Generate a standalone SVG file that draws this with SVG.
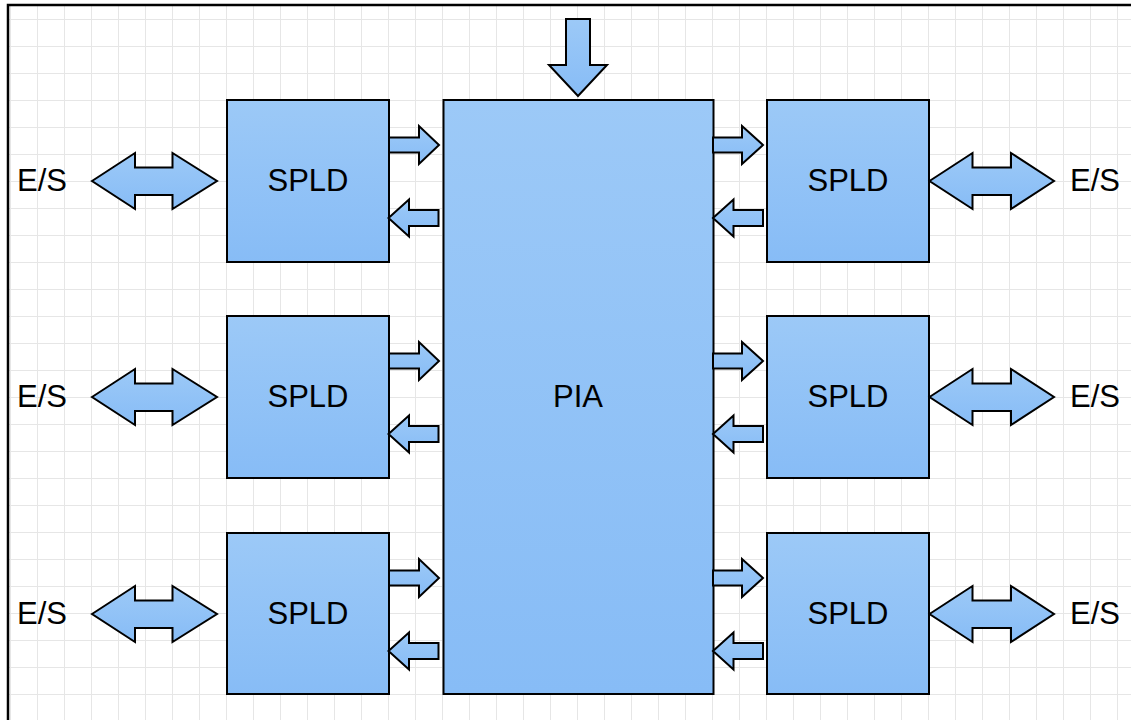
<svg xmlns="http://www.w3.org/2000/svg" width="1131" height="720" viewBox="0 0 1131 720">
  <defs>
    <linearGradient id="blueFill" x1="0" y1="0" x2="0" y2="1">
      <stop offset="0" stop-color="#9cc9f7"/>
      <stop offset="1" stop-color="#87bcf6"/>
    </linearGradient>
    <pattern id="grid" x="10" y="19" width="27" height="27" patternUnits="userSpaceOnUse">
      <path d="M0.5,0 V27 M0,0.5 H27" fill="none" stroke="#e6e6e6" stroke-width="1"/>
    </pattern>
    <style>
      .box { fill: url(#blueFill); stroke: #000; stroke-width: 2; }
      .arrow { fill: url(#blueFill); stroke: #000; stroke-width: 2; stroke-linejoin: miter; }
      .label { font-family: "Liberation Sans", Arial, sans-serif; font-size: 31px; fill: #000; text-anchor: middle; }
    </style>
  </defs>

  <!-- background and grid -->
  <rect x="0" y="0" width="1131" height="720" fill="#fff"/>
  <rect x="9" y="6" width="1122" height="714" fill="url(#grid)"/>
  <path d="M8,720 V5 H1131" fill="none" stroke="#000" stroke-width="2.5"/>

  <!-- nodes -->
  <g id="pia">
    <rect class="box" x="443.5" y="100" width="270" height="594"/>
    <text class="label" x="578" y="407">PIA</text>
  </g>

  <g id="spld-l1">
    <rect class="box" x="227" y="100" width="162" height="162"/>
    <text class="label" x="308" y="191">SPLD</text>
  </g>
  <g id="spld-l2">
    <rect class="box" x="227" y="316" width="162" height="162"/>
    <text class="label" x="308" y="407">SPLD</text>
  </g>
  <g id="spld-l3">
    <rect class="box" x="227" y="533" width="162" height="161"/>
    <text class="label" x="308" y="624">SPLD</text>
  </g>

  <g id="spld-r1">
    <rect class="box" x="767" y="100" width="162" height="162"/>
    <text class="label" x="848" y="191">SPLD</text>
  </g>
  <g id="spld-r2">
    <rect class="box" x="767" y="316" width="162" height="162"/>
    <text class="label" x="848" y="407">SPLD</text>
  </g>
  <g id="spld-r3">
    <rect class="box" x="767" y="533" width="162" height="161"/>
    <text class="label" x="848" y="624">SPLD</text>
  </g>

  <g id="io-l1"><text class="label" x="42" y="191">E/S</text></g>
  <g id="io-l2"><text class="label" x="42" y="407">E/S</text></g>
  <g id="io-l3"><text class="label" x="42" y="624">E/S</text></g>
  <g id="io-r1"><text class="label" x="1095" y="191">E/S</text></g>
  <g id="io-r2"><text class="label" x="1095" y="407">E/S</text></g>
  <g id="io-r3"><text class="label" x="1095" y="624">E/S</text></g>

  <!-- connectors: block arrows -->
  <g id="connectors">
    <!-- input into PIA -->
    <polygon class="arrow" points="566,19 590,19 590,65 607,65 578,96 549,65 566,65"/>

    <!-- left column: SPLD -> PIA and PIA -> SPLD -->
    <g id="links-left">
      <polygon class="arrow" points="389,137.5 419,137.5 419,126 439,145 419,164 419,152.5 389,152.5"/>
      <polygon class="arrow" points="388.5,218 409,199.5 409,210 438.5,210 438.5,226 409,226 409,236.5"/>
      <g transform="translate(0,216)">
        <polygon class="arrow" points="389,137.5 419,137.5 419,126 439,145 419,164 419,152.5 389,152.5"/>
        <polygon class="arrow" points="388.5,218 409,199.5 409,210 438.5,210 438.5,226 409,226 409,236.5"/>
      </g>
      <g transform="translate(0,433)">
        <polygon class="arrow" points="389,137.5 419,137.5 419,126 439,145 419,164 419,152.5 389,152.5"/>
        <polygon class="arrow" points="388.5,218 409,199.5 409,210 438.5,210 438.5,226 409,226 409,236.5"/>
      </g>
    </g>

    <!-- right column: PIA -> SPLD and SPLD -> PIA -->
    <g id="links-right">
      <polygon class="arrow" points="713,137.5 742,137.5 742,126 763,145 742,164 742,152.5 713,152.5"/>
      <polygon class="arrow" points="713,218 733.5,199.5 733.5,210 763,210 763,226 733.5,226 733.5,236.5"/>
      <g transform="translate(0,216)">
        <polygon class="arrow" points="713,137.5 742,137.5 742,126 763,145 742,164 742,152.5 713,152.5"/>
        <polygon class="arrow" points="713,218 733.5,199.5 733.5,210 763,210 763,226 733.5,226 733.5,236.5"/>
      </g>
      <g transform="translate(0,433)">
        <polygon class="arrow" points="713,137.5 742,137.5 742,126 763,145 742,164 742,152.5 713,152.5"/>
        <polygon class="arrow" points="713,218 733.5,199.5 733.5,210 763,210 763,226 733.5,226 733.5,236.5"/>
      </g>
    </g>

    <!-- bidirectional I/O arrows -->
    <g id="io-left">
      <polygon class="arrow" points="92,181 135,153 135,167.5 172.5,167.5 172.5,153 217,181 172.5,209 172.5,195 135,195 135,209"/>
      <polygon class="arrow" transform="translate(0,216)" points="92,181 135,153 135,167.5 172.5,167.5 172.5,153 217,181 172.5,209 172.5,195 135,195 135,209"/>
      <polygon class="arrow" transform="translate(0,433)" points="92,181 135,153 135,167.5 172.5,167.5 172.5,153 217,181 172.5,209 172.5,195 135,195 135,209"/>
    </g>
    <g id="io-right">
      <polygon class="arrow" points="929.5,181 972.5,153 972.5,167.5 1011,167.5 1011,153 1054,181 1011,209 1011,195 972.5,195 972.5,209"/>
      <polygon class="arrow" transform="translate(0,216)" points="929.5,181 972.5,153 972.5,167.5 1011,167.5 1011,153 1054,181 1011,209 1011,195 972.5,195 972.5,209"/>
      <polygon class="arrow" transform="translate(0,433)" points="929.5,181 972.5,153 972.5,167.5 1011,167.5 1011,153 1054,181 1011,209 1011,195 972.5,195 972.5,209"/>
    </g>
  </g>
</svg>
